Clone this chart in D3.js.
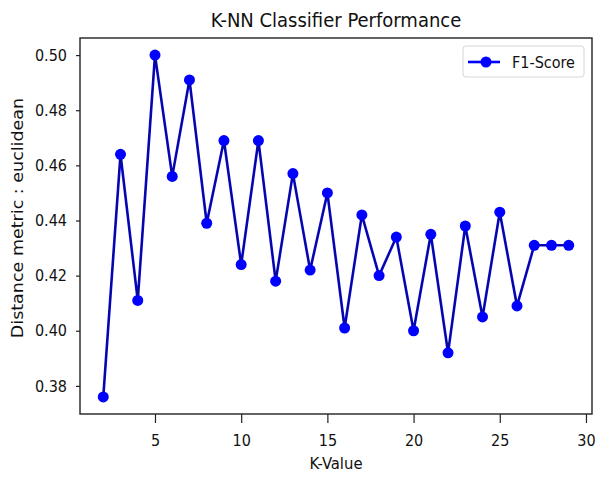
<!DOCTYPE html>
<html>
<head>
<meta charset="utf-8">
<script src="https://cdn.jsdelivr.net/npm/d3@7"></script>
<style>
  body { margin: 0; background: #fff; }
  text { font-family: "DejaVu Sans Condensed", "DejaVu Sans", sans-serif; fill: #111; }
</style>
</head>
<body>
<div id="chart"></div>
<script>
// data
let k_values = [2, 3, 4, 5, 6, 7, 8, 9, 10, 11, 12, 13, 14, 15, 16, 17, 18, 19, 20, 21, 22, 23, 24, 25, 26, 27, 28, 29];
let f1_scores = [0.376, 0.464, 0.411, 0.500, 0.456, 0.491, 0.439, 0.469, 0.424, 0.469,
                 0.418, 0.457, 0.422, 0.450, 0.401, 0.442, 0.420, 0.434, 0.400, 0.435,
                 0.392, 0.438, 0.405, 0.443, 0.409, 0.431, 0.431, 0.431];
let x_ticks = [5, 10, 15, 20, 25, 30];
let y_ticks = [0.38, 0.40, 0.42, 0.44, 0.46, 0.48, 0.50];

let width = 596;
let height = 480;
let margin = {left: 80, right: 4, top: 38, bottom: 66};
let font = "DejaVu Sans Condensed";

let svg = d3.select("#chart").append("svg")
    .attr("width", width)
    .attr("height", height);

let x = d3.scaleLinear()
    .domain([0.65, 30.35])
    .range([margin.left, width - margin.right]);
let y = d3.scaleLinear()
    .domain([0.3698, 0.5062])
    .range([height - margin.bottom, margin.top]);

// axes
let xAxis = svg.append("g")
    .attr("transform", "translate(0," + (height - margin.bottom) + ")")
    .call(d3.axisBottom(x).tickValues(x_ticks).tickSize(9).tickPadding(12).tickFormat(d3.format("d")));
let yAxis = svg.append("g")
    .attr("transform", "translate(" + margin.left + ",0)")
    .call(d3.axisLeft(y).tickValues(y_ticks).tickSize(4).tickPadding(9).tickFormat(d3.format(".2f")));
[xAxis, yAxis].forEach(function(a) {
    a.select(".domain").remove();
    a.selectAll("line").attr("stroke", "#222").attr("stroke-width", 1.2);
    a.selectAll("text").style("font-size", "16px").style("font-family", font).attr("fill", "#111");
});

// frame
svg.append("rect")
    .attr("x", margin.left)
    .attr("y", margin.top)
    .attr("width", width - margin.left - margin.right)
    .attr("height", height - margin.top - margin.bottom)
    .attr("fill", "none")
    .attr("stroke", "#222")
    .attr("stroke-width", 1.4);

// line + markers
let line = d3.line()
    .x(function(d, i) { return x(k_values[i]); })
    .y(function(d) { return y(d); });

svg.append("path")
    .datum(f1_scores)
    .attr("d", line)
    .attr("fill", "none")
    .attr("stroke", "#0000ff")
    .attr("stroke-width", 2.6);
svg.append("path")
    .datum(f1_scores)
    .attr("d", line)
    .attr("fill", "none")
    .attr("stroke", "#10104a")
    .attr("stroke-width", 1);

svg.selectAll("circle.pt")
    .data(f1_scores)
    .enter()
    .append("circle")
    .classed("pt", true)
    .attr("cx", function(d, i) { return x(k_values[i]); })
    .attr("cy", function(d) { return y(d); })
    .attr("r", 5.5)
    .attr("fill", "#0000ff");

// title and labels
svg.append("text")
    .attr("x", (margin.left + width - margin.right) / 2)
    .attr("y", 27)
    .attr("text-anchor", "middle")
    .style("font-size", "20px")
    .text("K-NN Classifier Performance");
svg.append("text")
    .attr("x", (margin.left + width - margin.right) / 2)
    .attr("y", 469)
    .attr("text-anchor", "middle")
    .style("font-size", "16.5px")
    .text("K-Value");
// reference is stretched vertically, so the rotated label runs longer
svg.append("text")
    .attr("transform", "translate(23,218) rotate(-90) scale(1.18,1)")
    .attr("text-anchor", "middle")
    .style("font-size", "16.5px")
    .text("Distance metric : euclidean");

// legend
let legend = svg.append("g").attr("transform", "translate(463,46)");
legend.append("rect")
    .attr("width", 121)
    .attr("height", 31)
    .attr("rx", 3)
    .attr("fill", "#fff")
    .attr("stroke", "#d6d6d6");
legend.append("line")
    .attr("x1", 5).attr("x2", 37)
    .attr("y1", 16).attr("y2", 16)
    .attr("stroke", "#0000ff")
    .attr("stroke-width", 2.6);
legend.append("circle")
    .attr("cx", 23).attr("cy", 16).attr("r", 5.5)
    .attr("fill", "#0000ff");
legend.append("text")
    .attr("x", 49)
    .attr("y", 22)
    .style("font-size", "16px")
    .text("F1-Score");
</script>
</body>
</html>
